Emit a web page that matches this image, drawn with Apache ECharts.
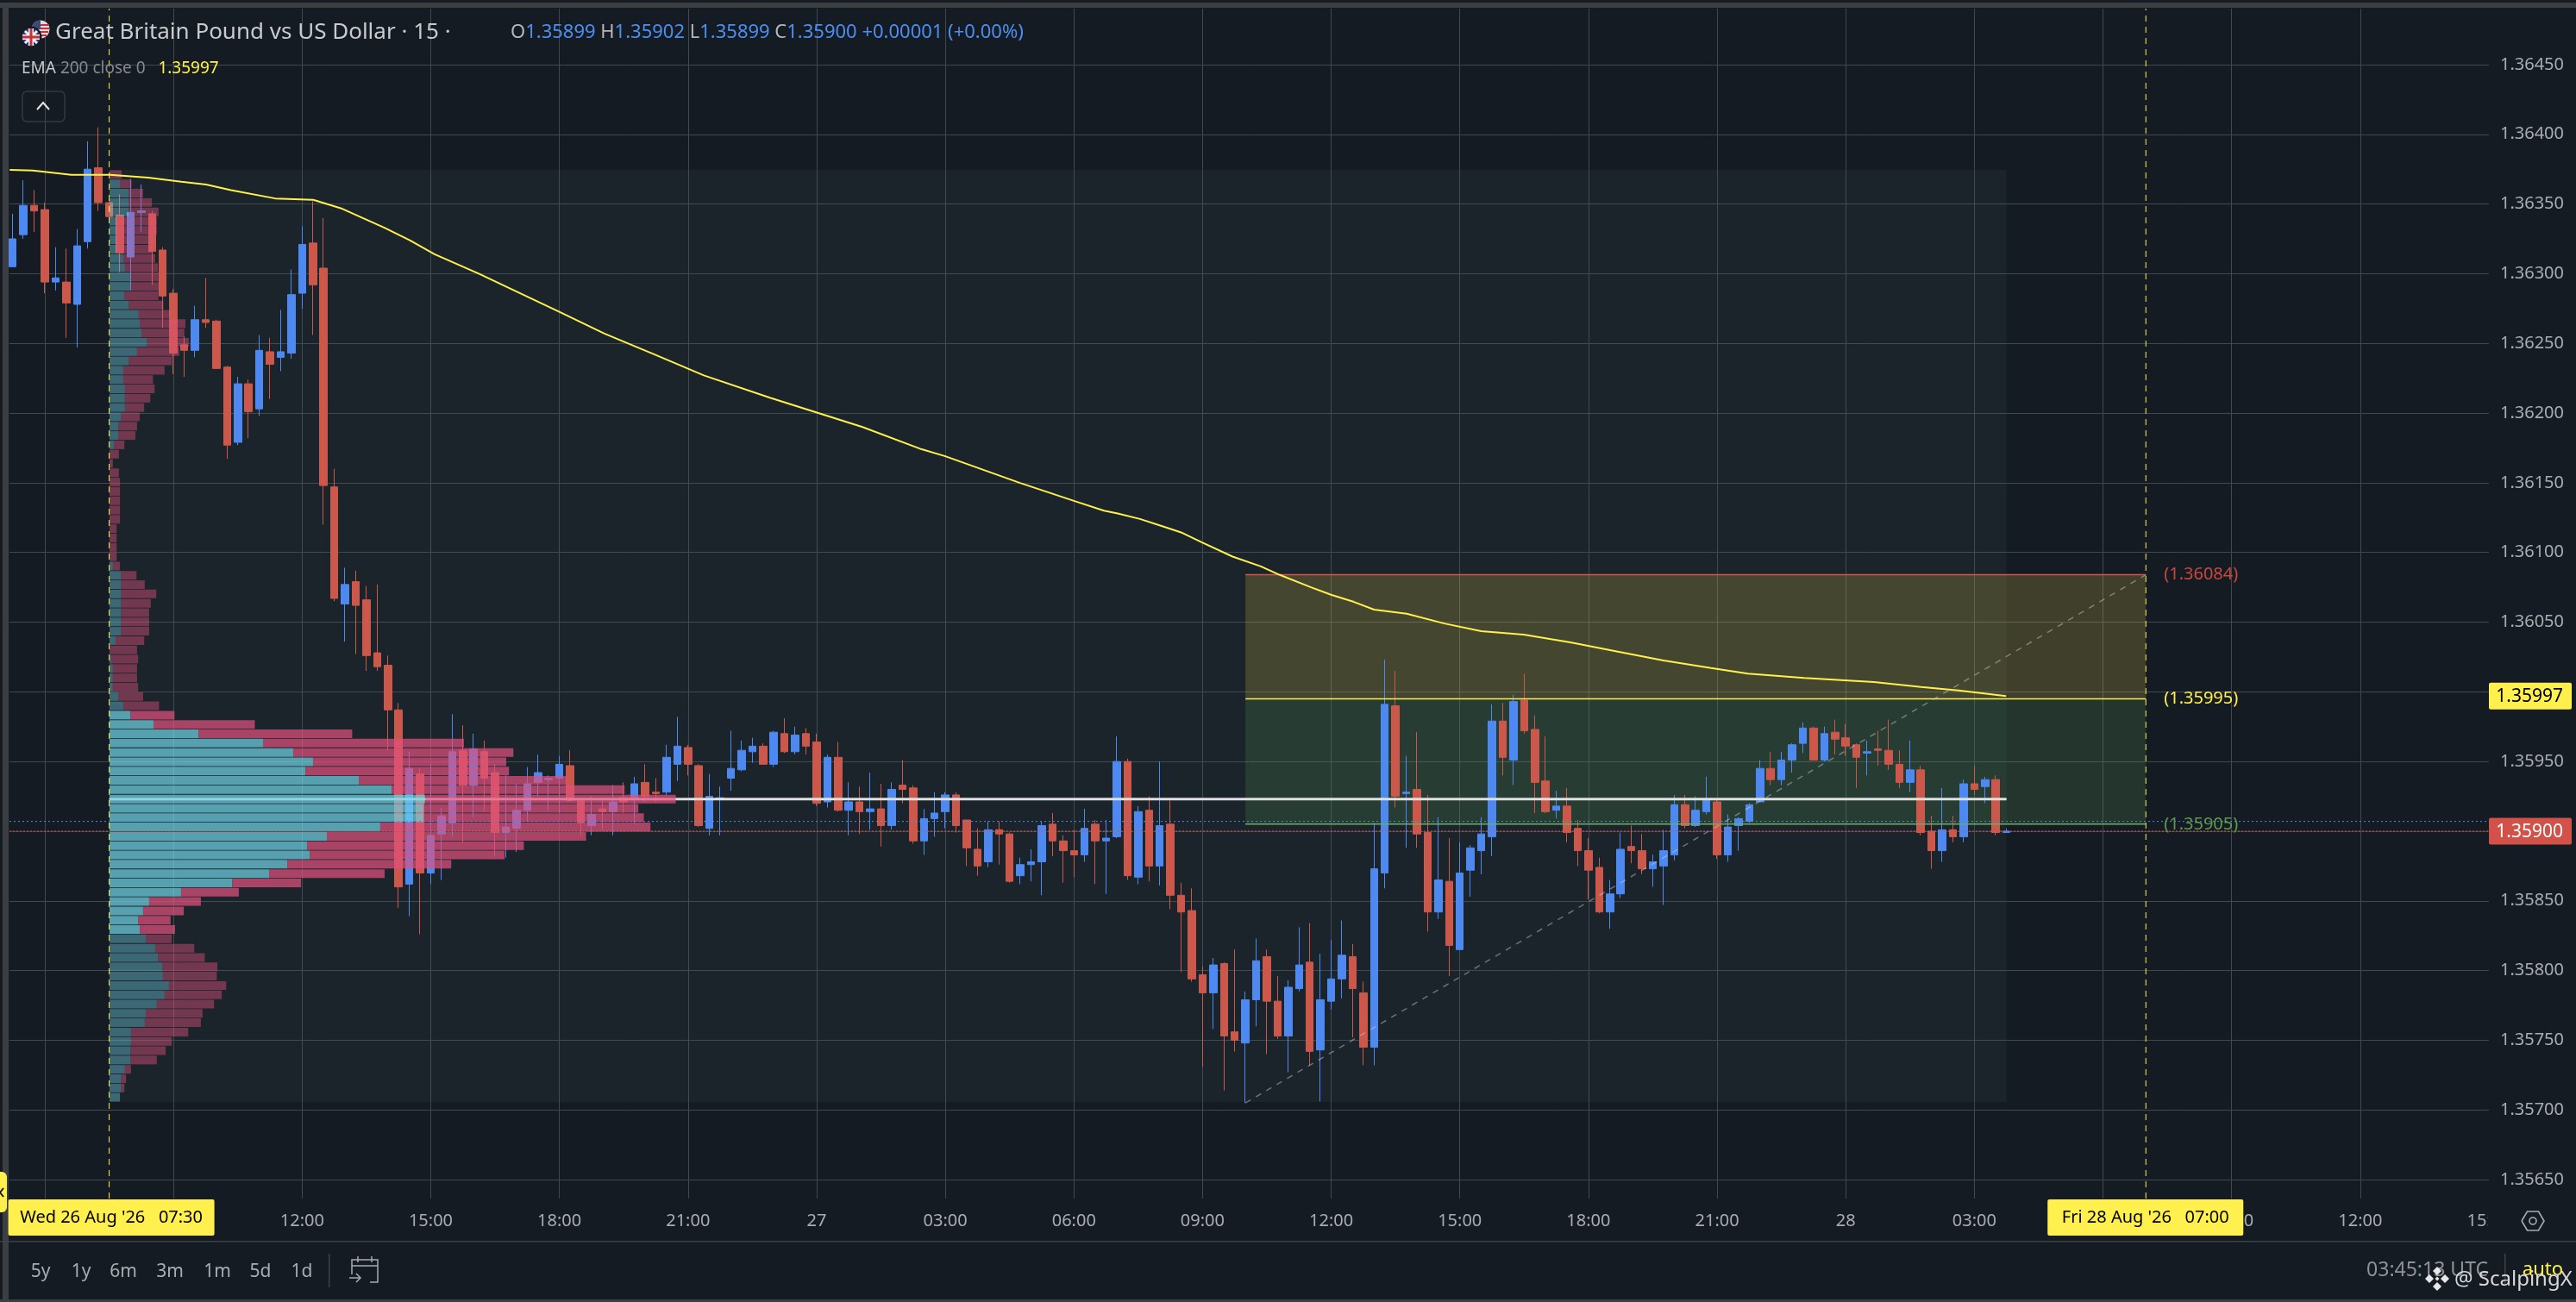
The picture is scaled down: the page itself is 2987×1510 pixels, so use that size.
<!DOCTYPE html>
<html>
<head>
<meta charset="utf-8">
<title>GBPUSD 15m</title>
<style>html,body{margin:0;padding:0;background:#151b23}#c{width:2987px;height:1510px}</style>
<script src="https://cdn.jsdelivr.net/npm/echarts@6/dist/echarts.min.js"></script>
</head>
<body>
<div id="c"></div>
<script>
// ---- tick labels (x = hours since Wed 26 Aug 2026 00:00)
const xTickHours  = [6,9,12,15,18,21,24,27,30,33,36,39,42,45,48,51,54,57,60,63];
const xTickLabels = ['06:00','09:00','12:00','15:00','18:00','21:00','27','03:00','06:00','09:00','12:00','15:00','18:00','21:00','28','03:00','06:00','09:00','12:00','15:00'];
const yTicks = [1.3565,1.357,1.3575,1.358,1.3585,1.359,1.3595,1.36,1.3605,1.361,1.3615,1.362,1.3625,1.363,1.3635,1.364,1.3645];

// ---- 15 minute candles: first bar opens at hour 5.25; [open, close, low, high]
const firstCandleHour = 5.25;
const candles = [
[1.36305,1.36325,1.36305,1.36343],[1.36328,1.36349,1.36325,1.36367],[1.36349,1.36345,1.36330,1.36360],[1.36346,1.36294,1.36286,1.36351],
[1.36294,1.36297,1.36288,1.36319],[1.36294,1.36279,1.36254,1.36318],[1.36278,1.36320,1.36247,1.36332],[1.36323,1.36375,1.36318,1.36395],
[1.36376,1.36351,1.36345,1.36405],[1.36351,1.36341,1.36340,1.36352],[1.36342,1.36315,1.36301,1.36357],[1.36312,1.36344,1.36288,1.36368],
[1.36344,1.36345,1.36330,1.36364],[1.36343,1.36316,1.36292,1.36345],[1.36317,1.36284,1.36261,1.36319],[1.36286,1.36243,1.36228,1.36289],
[1.36249,1.36245,1.36226,1.36255],[1.36245,1.36267,1.36240,1.36277],[1.36267,1.36265,1.36261,1.36297],[1.36266,1.36232,1.36232,1.36267],
[1.36233,1.36177,1.36167,1.36234],[1.36179,1.36221,1.36177,1.36226],[1.36221,1.36201,1.36182,1.36224],[1.36203,1.36245,1.36198,1.36256],
[1.36244,1.36235,1.36210,1.36254],[1.36240,1.36244,1.36230,1.36274],[1.36243,1.36285,1.36239,1.36303],[1.36286,1.36321,1.36275,1.36334],
[1.36322,1.36292,1.36256,1.36352],[1.36304,1.36148,1.36120,1.36340],[1.36147,1.36067,1.36065,1.36160],[1.36063,1.36077,1.36036,1.36089],
[1.36079,1.36062,1.36027,1.36087],[1.36066,1.36026,1.36015,1.36076],[1.36028,1.36018,1.36015,1.36077],[1.36019,1.35987,1.35958,1.36026],
[1.35987,1.35860,1.35845,1.35992],[1.35862,1.35945,1.35839,1.35957],[1.35941,1.35870,1.35826,1.35945],[1.35870,1.35897,1.35862,1.35948],
[1.35898,1.35911,1.35865,1.35917],[1.35906,1.35957,1.35896,1.35984],[1.35958,1.35933,1.35892,1.35976],[1.35933,1.35959,1.35910,1.35970],
[1.35957,1.35938,1.35914,1.35965],[1.35942,1.35899,1.35882,1.35948],[1.35899,1.35903,1.35881,1.35940],[1.35902,1.35915,1.35885,1.35934],
[1.35915,1.35934,1.35907,1.35946],[1.35935,1.35942,1.35925,1.35955],[1.35937,1.35938,1.35915,1.35940],[1.35938,1.35948,1.35913,1.35954],
[1.35947,1.35922,1.35921,1.35958],[1.35922,1.35906,1.35897,1.35924],[1.35904,1.35912,1.35897,1.35925],[1.35916,1.35914,1.35901,1.35922],
[1.35914,1.35921,1.35897,1.35933],[1.35924,1.35921,1.35913,1.35935],[1.35924,1.35934,1.35906,1.35939],[1.35935,1.35925,1.35921,1.35948],
[1.35928,1.35927,1.35921,1.35938],[1.35928,1.35953,1.35926,1.35962],[1.35948,1.35961,1.35936,1.35982],[1.35960,1.35948,1.35940,1.35962],
[1.35947,1.35904,1.35903,1.35948],[1.35902,1.35925,1.35897,1.35941],[1.35923,1.35924,1.35897,1.35932],[1.35938,1.35945,1.35929,1.35972],
[1.35944,1.35958,1.35943,1.35965],[1.35957,1.35961,1.35949,1.35967],[1.35961,1.35948,1.35948,1.35963],[1.35948,1.35971,1.35946,1.35972],
[1.35970,1.35957,1.35956,1.35981],[1.35957,1.35969,1.35955,1.35975],[1.35970,1.35961,1.35955,1.35974],[1.35964,1.35920,1.35918,1.35970],
[1.35921,1.35953,1.35917,1.35955],[1.35953,1.35915,1.35914,1.35964],[1.35915,1.35921,1.35897,1.35935],[1.35921,1.35914,1.35898,1.35932],
[1.35914,1.35916,1.35901,1.35942],[1.35916,1.35904,1.35889,1.35934],[1.35904,1.35930,1.35901,1.35935],[1.35933,1.35930,1.35920,1.35951],
[1.35931,1.35893,1.35891,1.35933],[1.35893,1.35909,1.35883,1.35916],[1.35909,1.35913,1.35896,1.35928],[1.35914,1.35926,1.35902,1.35928],
[1.35926,1.35904,1.35899,1.35928],[1.35908,1.35888,1.35875,1.35908],[1.35887,1.35875,1.35868,1.35902],[1.35878,1.35901,1.35874,1.35907],
[1.35901,1.35898,1.35876,1.35907],[1.35898,1.35864,1.35863,1.35899],[1.35868,1.35876,1.35862,1.35881],[1.35876,1.35878,1.35864,1.35887],
[1.35878,1.35904,1.35854,1.35907],[1.35905,1.35893,1.35882,1.35913],[1.35893,1.35886,1.35863,1.35897],[1.35886,1.35883,1.35867,1.35901],
[1.35883,1.35902,1.35878,1.35916],[1.35905,1.35893,1.35862,1.35908],[1.35893,1.35895,1.35855,1.35908],[1.35896,1.35950,1.35895,1.35968],
[1.35950,1.35868,1.35865,1.35952],[1.35867,1.35914,1.35862,1.35918],[1.35915,1.35875,1.35864,1.35925],[1.35875,1.35904,1.35861,1.35950],
[1.35905,1.35854,1.35844,1.35922],[1.35854,1.35842,1.35799,1.35863],[1.35843,1.35794,1.35792,1.35859],[1.35797,1.35784,1.35731,1.35803],
[1.35784,1.35804,1.35758,1.35809],[1.35805,1.35753,1.35714,1.35806],[1.35756,1.35750,1.35742,1.35815],[1.35748,1.35779,1.35705,1.35785],
[1.35779,1.35807,1.35760,1.35823],[1.35810,1.35778,1.35740,1.35815],[1.35778,1.35753,1.35751,1.35796],[1.35753,1.35788,1.35727,1.35793],
[1.35787,1.35804,1.35785,1.35831],[1.35806,1.35742,1.35732,1.35834],[1.35743,1.35779,1.35706,1.35812],[1.35778,1.35794,1.35772,1.35822],
[1.35794,1.35811,1.35780,1.35836],[1.35810,1.35787,1.35752,1.35819],[1.35784,1.35745,1.35732,1.35792],[1.35745,1.35873,1.35732,1.35906],
[1.35870,1.35991,1.35859,1.36023],[1.35990,1.35925,1.35917,1.36015],[1.35927,1.35928,1.35888,1.35954],[1.35930,1.35898,1.35888,1.35971],
[1.35899,1.35842,1.35828,1.35926],[1.35842,1.35865,1.35837,1.35910],[1.35864,1.35818,1.35796,1.35895],[1.35815,1.35870,1.35815,1.35892],
[1.35872,1.35888,1.35853,1.35890],[1.35886,1.35898,1.35869,1.35910],[1.35896,1.35979,1.35882,1.35991],[1.35979,1.35953,1.35940,1.35992],
[1.35951,1.35993,1.35933,1.35998],[1.35994,1.35972,1.35970,1.36013],[1.35973,1.35935,1.35913,1.35983],[1.35936,1.35914,1.35913,1.35968],
[1.35915,1.35918,1.35909,1.35929],[1.35918,1.35899,1.35892,1.35931],[1.35902,1.35886,1.35875,1.35908],[1.35886,1.35872,1.35851,1.35895],
[1.35874,1.35842,1.35841,1.35881],[1.35842,1.35855,1.35830,1.35865],[1.35855,1.35887,1.35852,1.35899],[1.35889,1.35886,1.35877,1.35904],
[1.35886,1.35873,1.35869,1.35898],[1.35873,1.35878,1.35860,1.35883],[1.35875,1.35886,1.35847,1.35901],[1.35883,1.35919,1.35879,1.35926],
[1.35919,1.35904,1.35902,1.35926],[1.35904,1.35915,1.35903,1.35925],[1.35914,1.35922,1.35912,1.35939],[1.35921,1.35883,1.35880,1.35923],
[1.35883,1.35903,1.35878,1.35912],[1.35904,1.35909,1.35886,1.35910],[1.35907,1.35919,1.35906,1.35920],[1.35921,1.35945,1.35921,1.35951],
[1.35945,1.35937,1.35933,1.35957],[1.35937,1.35951,1.35933,1.35957],[1.35951,1.35962,1.35942,1.35963],[1.35963,1.35974,1.35956,1.35978],
[1.35974,1.35951,1.35951,1.35975],[1.35951,1.35970,1.35950,1.35975],[1.35971,1.35966,1.35955,1.35980],[1.35967,1.35961,1.35954,1.35977],
[1.35962,1.35953,1.35931,1.35963],[1.35956,1.35957,1.35940,1.35965],[1.35959,1.35958,1.35947,1.35972],[1.35958,1.35948,1.35944,1.35980],
[1.35948,1.35935,1.35931,1.35958],[1.35935,1.35944,1.35928,1.35965],[1.35944,1.35899,1.35897,1.35947],[1.35900,1.35886,1.35873,1.35911],
[1.35886,1.35901,1.35878,1.35931],[1.35901,1.35896,1.35892,1.35911],[1.35896,1.35934,1.35892,1.35937],[1.35934,1.35930,1.35926,1.35947],
[1.35932,1.35937,1.35920,1.35939],[1.35937,1.35899,1.35897,1.35940],[1.35899,1.35900,1.35899,1.35902]
];

// ---- EMA 200, read at the turning points of the drawn line
const emaHours  = [5.18,5.72,6.62,7.52,8.41,9.18,9.76,10.34,11.37,12.26,12.9,13.92,14.51,15.09,16.12,18.04,19.05,20.22,21.37,22.91,25.07,26.45,27.0,28.73,30.0,30.7,31.02,31.54,32.09,32.53,33.0,33.7,34.36,34.79,35.53,36.01,36.53,37.0,37.76,38.64,39.5,40.49,41.58,42.66,43.75,44.86,45.72,47.03,48.66,49.76,50.63,51.74];
const emaPrices = [1.363745,1.36374,1.36371,1.36371,1.36369,1.36366,1.36364,1.3636,1.36354,1.36353,1.36347,1.36333,1.36324,1.36314,1.363,1.36272,1.36257,1.36242,1.36227,1.36211,1.3619,1.36174,1.36169,1.3615,1.36137,1.3613,1.36128,1.36124,1.361185,1.36114,1.36107,1.36097,1.3609,1.36084,1.36075,1.360695,1.360645,1.36059,1.36056,1.36049,1.360435,1.36041,1.360355,1.36029,1.360225,1.36017,1.36013,1.3601,1.36007,1.360035,1.36001,1.35997];

// ---- volume profile, top row to bottom row (arbitrary volume units)
const profileUp = [0,19,35,35,35,13,13,13,13,25,28,38,38,27,35,53,55,58,68,50,35,25,25,28,28,28,21,16,16,8,0,0,0,0,0,0,0,0,0,0,0,0,6,21,21,21,21,21,21,21,11,0,3,6,6,6,16,25,38,80,162,279,334,370,356,453,513,574,571,571,492,395,359,364,323,290,223,130,72,61,52,55,66,83,88,96,97,108,100,86,66,64,39,39,38,38,28,21,21,19];
const profileDown = [22,21,26,42,54,73,73,68,66,58,60,51,54,62,63,58,83,78,76,77,78,75,54,54,46,35,34,34,31,19,17,6,17,19,19,19,19,19,13,13,13,13,13,28,43,64,54,51,51,51,52,50,49,44,44,46,45,65,80,184,279,365,400,351,370,378,423,455,390,400,491,471,394,354,298,210,125,105,94,74,59,64,47,71,85,100,98,104,104,104,103,102,104,74,64,48,11,9,6,0];
const valueAreaFirstRow = 58, valueAreaLastRow = 81;

// ---- drawn levels
const panelHours = [7.5,51.75], panelPrices = [1.363745,1.357057];
const fibHours = [34,55];
const fibUpper = 1.36084, fibMiddle = 1.35995, fibLower = 1.35905;
const pocPrice = 1.35923, lastPrice = 1.359, prevClosePrice = 1.35907, emaLast = 1.35997;
const diagonalHours = [34,55], diagonalPrices = [1.35705,1.36084];
const anchorHours = [7.5,55];

const yMin = 1.356364, yMax = 1.364902, xMin = 5.175, xMax = 63;
const FONT = '"Noto Sans", sans-serif';
const BG = '#151b23', BLUE = '#4d89f0', RED = '#cc584c', YEL = '#fff04d';

const chart = echarts.init(document.getElementById('c'), null, {renderer:'canvas', width:2987, height:1510});

const candleData = candles.map((c,i)=>[firstCandleHour+i*0.25, c[0],c[1],c[2],c[3]]);
const seg = (name,xs,ys,color,width,type,z)=>({
  name, type:'line', xAxisIndex:0, yAxisIndex:0, data:xs.map((x,i)=>[x,ys[i]]), showSymbol:false, symbol:'none',
  lineStyle:{color,width,type,opacity:1}, silent:true, z, clip:true, animation:false
});
const rowColor = (bright,dim)=>p=>(p.dataIndex>=valueAreaFirstRow&&p.dataIndex<=valueAreaLastRow)?bright:dim;

const option = {
  animation:false, backgroundColor:BG,
  grid:[
    {left:11, right:101, top:10, bottom:120, containLabel:false},
    {left:127, right:101, top:197, height:1081, containLabel:false}
  ],
  xAxis:[
    {type:'value', gridIndex:0, min:xMin, max:xMax, axisLine:{show:false},
     axisTick:{show:false, customValues:xTickHours},
     axisLabel:{customValues:xTickHours, margin:16, color:'#a9adb2', fontFamily:FONT, fontSize:20, showMinLabel:true, showMaxLabel:true,
       formatter:v=>xTickLabels[xTickHours.indexOf(v)]||''},
     splitLine:{show:true, showMaxLine:false, lineStyle:{color:'#41484e', width:1}}},
    {type:'value', gridIndex:1, min:0, max:4324, show:false, splitLine:{show:false}}
  ],
  yAxis:[
    {type:'value', gridIndex:0, position:'right', min:yMin, max:yMax, axisLine:{show:false},
     axisTick:{show:false, customValues:yTicks},
     axisLabel:{customValues:yTicks, margin:13, color:'#a9adb2', fontFamily:FONT, fontSize:20, padding:[3,0,0,0], formatter:v=>v.toFixed(5)},
     splitLine:{show:true, lineStyle:{color:'#41484e', width:1}}},
    {type:'category', gridIndex:1, inverse:true, data:profileUp.map((_,i)=>i+1), show:false, splitLine:{show:false}}
  ],
  series:[
    {type:'line', name:'zones', xAxisIndex:0, yAxisIndex:0, data:[], silent:true, z:1,
     markArea:{silent:true, z:1, animation:false, data:[
       [{coord:[panelHours[0],panelPrices[0]],itemStyle:{color:'rgba(60,95,85,0.15)'}},{coord:[panelHours[1],panelPrices[1]]}],
       [{coord:[fibHours[0],fibUpper],itemStyle:{color:'rgba(240,209,76,0.20)'}},{coord:[fibHours[1],fibMiddle]}],
       [{coord:[fibHours[0],fibMiddle],itemStyle:{color:'rgba(100,170,90,0.18)'}},{coord:[fibHours[1],fibLower]}]
     ]}},
    {type:'candlestick', name:'GBPUSD', xAxisIndex:0, yAxisIndex:0, data:candleData, encode:{x:0,y:[1,2,3,4]},
     barWidth:9, silent:true, z:3, clip:true, animation:false,
     itemStyle:{color:BLUE, color0:RED, borderColor:BLUE, borderColor0:RED, borderWidth:1}},
    seg('fib top',fibHours,[fibUpper,fibUpper],'#d9534a',1.5,'solid',4),
    seg('fib mid',fibHours,[fibMiddle,fibMiddle],YEL,1.5,'solid',4),
    seg('fib low',fibHours,[fibLower,fibLower],'#6fae55',1.5,'solid',4),
    seg('diagonal',diagonalHours,diagonalPrices,'rgba(205,210,215,0.45)',1.5,[7,7],4),
    seg('poc',panelHours,[pocPrice,pocPrice],'#dfe0e0',3,'solid',4),
    {type:'bar', name:'up volume', xAxisIndex:1, yAxisIndex:1, stack:'vp', data:profileUp, barWidth:10, silent:true, z:5, animation:false,
     itemStyle:{color:rowColor('rgba(111,208,227,0.72)','rgba(111,208,227,0.40)')}},
    {type:'bar', name:'down volume', xAxisIndex:1, yAxisIndex:1, stack:'vp', data:profileDown, barWidth:10, silent:true, z:5, animation:false,
     itemStyle:{color:rowColor('rgba(224,81,126,0.72)','rgba(224,81,126,0.45)')}},
    seg('ema',emaHours,emaPrices,YEL,2,'solid',6),
    seg('prev',[xMin,xMax],[prevClosePrice,prevClosePrice],BLUE,1,[2,3],6),
    seg('last',[xMin,xMax],[lastPrice,lastPrice],'#d9534a',1,[2,2],6),
    seg('anchor a',[anchorHours[0],anchorHours[0]],[yMin,yMax],YEL,1,[7,6],6),
    seg('anchor b',[anchorHours[1],anchorHours[1]],[yMin,yMax],YEL,1,[7,6],6)
  ]
};
chart.setOption(option);

// ---- overlay text and chrome, tied to the chart's scales where they name a value
const P = (h,p)=>chart.convertToPixel({gridIndex:0},[h,p]);
const T = (x,y,text,fill,size,align,extra)=>Object.assign({type:'text',x,y,z:100,silent:true,
  style:{text,fill,fontFamily:FONT,fontSize:size,align:align||'left',verticalAlign:'middle'}},extra||{});
const R = (x,y,w,h,fill,r,stroke)=>({type:'rect',z:99,silent:true,shape:{x,y,width:w,height:h,r:r||0},style:{fill:fill||'none',stroke:stroke||null,lineWidth:stroke?1.5:0}});
const L = (pts,stroke,w)=>({type:'polyline',z:100,silent:true,shape:{points:pts},style:{stroke,lineWidth:w||2,fill:'none'}});
const D = (cx,cy,r,fill)=>({type:'polygon',z:100,silent:true,shape:{points:[[cx,cy-r],[cx+r,cy],[cx,cy+r],[cx-r,cy]]},style:{fill}});

const fibLabelX = P(anchorHours[1],lastPrice)[0]+21;
const yPx = p=>P(xMin,p)[1];
const tagBox = (h,label,fill,textFill)=>{
  const y = yPx(h);
  return [R(2886,y-15.5,96,31,fill,2), T(2972,y+1,label,textFill,21,'right')];
};
const timeBox = (h,label,left,right)=>{
  const x = P(h,lastPrice)[0];
  return [R(x-left,1391,left+right,42,YEL,2), T(x+(right-left)/2,1412,label,'#000',20,'center')];
};
const graphics = [
  // frame
  R(0,3,2987,6,'#3b3e42'), R(3,3,7,1507,'#3b3e42'), R(0,1507,2987,3,'#3b3e42'),
  R(2885,1391,102,47,BG),
  R(0,1439,2987,1.5,'#3c4248'),
  // flag
  {type:'circle',z:100,silent:true,shape:{cx:47,cy:34,r:10.5},style:{fill:'#ddd'}},
  L([[40,29],[57,29]],'#c8303c',2), L([[38,33],[57,33]],'#c8303c',2), L([[38,37],[56,37]],'#c8303c',2), L([[41,41],[54,41]],'#c8303c',2),
  {type:'sector',z:100,silent:true,shape:{cx:47,cy:34,r:10.5,r0:0,startAngle:Math.PI,endAngle:Math.PI*1.5},style:{fill:'#3a4a7a'}},
  {type:'circle',z:100,silent:true,shape:{cx:36,cy:43,r:12.5},style:{fill:BG}},
  {type:'circle',z:100,silent:true,shape:{cx:36,cy:43,r:10.5},style:{fill:'#2a3a78'}},
  L([[29,36],[43,50]],'#eee',3), L([[43,36],[29,50]],'#eee',3),
  L([[26,43],[46,43]],'#eee',6), L([[36,33],[36,53]],'#eee',6),
  L([[26,43],[46,43]],'#c8303c',3), L([[36,33],[36,53]],'#c8303c',3),
  // header
  T(64,38,'Great Britain Pound vs US Dollar · 15 ·','#c8cacd',26),
  {type:'text',x:592,y:38,z:100,silent:true,style:{
    text:'{g|O}{b|1.35899} {g|H}{b|1.35902} {g|L}{b|1.35899} {g|C}{b|1.35900} {b|+0.00001} {b|(+0.00%)}',
    fontFamily:FONT,fontSize:22,verticalAlign:'middle',
    rich:{g:{fill:'#b4b7bb',fontFamily:FONT,fontSize:22},b:{fill:'#4d8ef0',fontFamily:FONT,fontSize:22}}}},
  {type:'text',x:25,y:80,z:100,silent:true,style:{
    text:'{w|EMA} {g|200 close 0}   {y|1.35997}',fontFamily:FONT,fontSize:19,verticalAlign:'middle',
    rich:{w:{fill:'#c8cacd',fontFamily:FONT,fontSize:19},g:{fill:'#85898e',fontFamily:FONT,fontSize:19},y:{fill:YEL,fontFamily:FONT,fontSize:19}}}},
  R(26,106,49,35,null,5,'#343a41'),
  L([[43,127],[50,119],[57,127]],'#e6e7e8',2),
  // fib labels
  T(fibLabelX,yPx(fibUpper),'(1.36084)','#c9483f',20),
  T(fibLabelX,yPx(fibMiddle),'(1.35995)',YEL,20),
  T(fibLabelX,yPx(fibLower),'(1.35905)','#5f9a4c',20),
  // price tags
  ...tagBox(emaLast,'1.35997',YEL,'#000'),
  ...tagBox(lastPrice,'1.35900','#d2524a','#fff'),
  // time tags
  ...timeBox(anchorHours[0],"Wed 26 Aug '26   07:30",117,122),
  ...timeBox(anchorHours[1],"Fri 28 Aug '26   07:00",114,113),
  // left tab
  R(0,1359,8,47,YEL,[0,6,6,0]),
  L([[4,1378],[0,1383],[4,1388]],'#111',2),
  // toolbar
  T(47,1475,'5y','#a9adb2',21,'center'), T(94,1475,'1y','#a9adb2',21,'center'), T(143,1475,'6m','#a9adb2',21,'center'),
  T(197,1475,'3m','#a9adb2',21,'center'), T(252,1475,'1m','#a9adb2',21,'center'), T(302,1475,'5d','#a9adb2',21,'center'), T(350,1475,'1d','#a9adb2',21,'center'),
  R(381,1454,1.5,39,'#3c4248'),
  L([[408,1478],[408,1461],[438,1461],[438,1487],[429,1487]],'#a9adb2',1.5),
  L([[408,1468],[438,1468]],'#a9adb2',1.5),
  L([[415,1457],[415,1464]],'#a9adb2',1.5), L([[431,1457],[431,1464]],'#a9adb2',1.5),
  L([[405,1482],[418,1482]],'#a9adb2',1.5), L([[413,1477],[418,1482],[413,1487]],'#a9adb2',1.5),
  // settings hexagon
  L([[2924,1416],[2930.5,1405],[2943.5,1405],[2950,1416],[2943.5,1427],[2930.5,1427],[2924,1416]],'#a9adb2',1.6),
  {type:'circle',z:100,silent:true,shape:{cx:2937,cy:1416,r:4},style:{stroke:'#a9adb2',lineWidth:1.6,fill:'none'}},
  // bottom right
  T(2885,1473,'03:45:13 UTC','#8f9297',23,'right'),
  R(2904,1454,1.5,36,'#3c4248'),
  T(2972,1473,'auto',YEL,22,'right'),
  D(2826,1474,5,'#e8e8e8'), D(2826,1492,5,'#e8e8e8'), D(2817,1483,5,'#e8e8e8'), D(2835,1483,5,'#e8e8e8'), D(2826,1483,2.5,'#e8e8e8'),
  {type:'text',x:2846,y:1484,z:101,silent:true,style:{text:'@ ScalpingX',fill:'#d8d8d8',fontFamily:FONT,fontSize:24,verticalAlign:'middle',
    shadowColor:'#000',shadowBlur:3}}
];
chart.setOption({graphic:graphics});
</script>
</body>
</html>
